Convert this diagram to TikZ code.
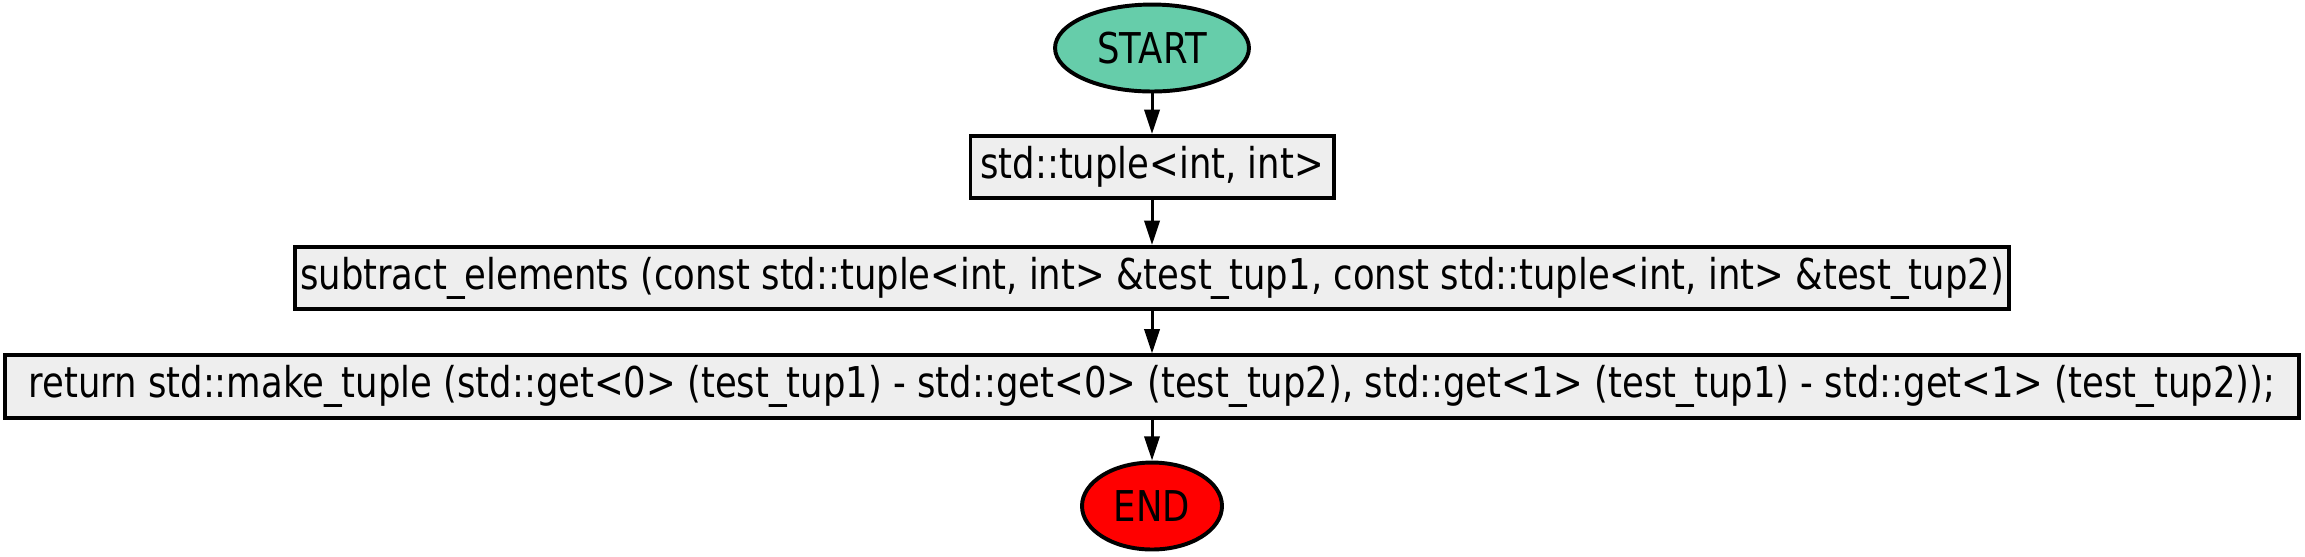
\documentclass[tikz,border=0pt]{standalone}
\usepackage{fontspec}
\setmainfont{DejaVu Sans}[FakeStretch=0.835]
\usetikzlibrary{arrows.meta,shapes.geometric}
\definecolor{startgreen}{HTML}{66CDAA}
\definecolor{boxgray}{HTML}{EEEEEE}
\begin{document}
\begin{tikzpicture}[x=0.33pt,y=0.33pt,
  every node/.style={font=\fontsize{14}{16}\selectfont, line width=1.3pt, inner sep=0pt},
  terminal/.style={draw, ellipse, minimum width=#1, minimum height=28.7pt},
  stepbox/.style={draw, fill=boxgray, minimum width=#1, minimum height=20.5pt},
  flow/.style={-{Triangle[length=8pt,width=5pt]}, line width=1pt}]
\useasboundingbox (0,0) rectangle (2305,-556);
\node[terminal=64pt, fill=startgreen] (start) at (1152,-48) {START};
\node[stepbox=119.8pt] (decl) at (1152,-167) {std::tuple<int, int>};
\node[stepbox=565.6pt] (func) at (1152,-278) {subtract\_elements (const std::tuple<int, int> \&test\_tup1, const std::tuple<int, int> \&test\_tup2)};
\node[stepbox=757pt] (ret) at (1152,-386.5) {return std::make\_tuple (std::get<0> (test\_tup1) - std::get<0> (test\_tup2), std::get<1> (test\_tup1) - std::get<1> (test\_tup2));};
\node[terminal=46.2pt, fill=red] (end) at (1152,-506) {END};
\draw[flow] (start) -- (decl);
\draw[flow] (decl) -- (func);
\draw[flow] (func) -- (ret);
\draw[flow] (ret) -- (end);
\end{tikzpicture}
\end{document}
